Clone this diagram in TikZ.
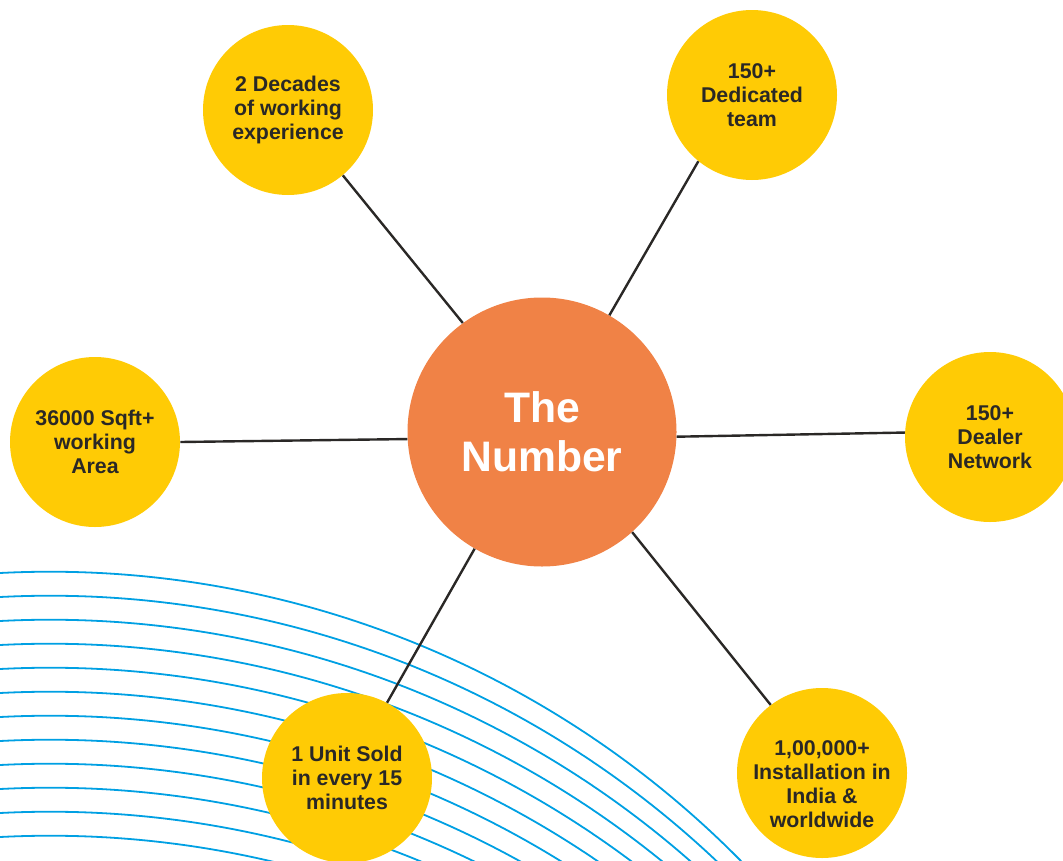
\documentclass[tikz,border=0pt]{standalone}
\usepackage{fontspec}
\setmainfont{Liberation Sans}
\usetikzlibrary{positioning}
\definecolor{numYellow}{RGB}{255,203,5}
\definecolor{numOrange}{RGB}{240,130,70}
\definecolor{numBlue}{RGB}{0,160,227}
\definecolor{numText}{RGB}{42,40,38}

\begin{document}
\begin{tikzpicture}[x=0.75pt,y=0.75pt]
  \tikzset{Fact/.style     = {circle, fill=numYellow, minimum size=127.5pt,
                              inner sep=0pt},
           FactText/.style = {align=center, text=numText, inner sep=0pt,
                              font=\fontsize{16}{18}\selectfont\bfseries},
           Hub/.style      = {circle, fill=numOrange, minimum size=201.75pt,
                              inner sep=0pt, align=center, text=white,
                              font=\fontsize{32}{37}\selectfont\bfseries},
           Spoke/.style    = {draw=numText, line width=1.8pt},
           Wave/.style     = {draw=numBlue, line width=1.35pt}}

\useasboundingbox (0,0) rectangle (1063,-860);
\clip (0,0) rectangle (1063,-860);

% waves
\foreach \y in {573,597,...,838}
  \draw[Wave] (0,-\y) arc[start angle=92.95, end angle=40, radius=970];

% hub
\node[Hub] (num) at (542,-432) {The\\Number};

% facts
\node[Fact, FactText] (decades) at (288,-110) {2 Decades\\of working\\experience};
\node[Fact, FactText] (team)    at (752,-95)  {150+\\Dedicated\\team};
\node[Fact, FactText] (area)    at (95,-442)  {36000 Sqft+\\working\\Area};
\node[Fact, FactText] (dealer)  at (990,-437) {150+\\Dealer\\Network};
\node[Fact, FactText] (sold)    at (347,-778) {1 Unit Sold\\in every 15\\minutes};
\node[Fact]           (install) at (822,-773) {};
\node[FactText] (installtext) at (822,-784) {1,00,000+\\Installation in\\India \&\\worldwide};

% spokes
\draw[Spoke] (num.126) -- (decades.310);
\draw[Spoke] (num.60)  -- (team.231);
\draw[Spoke] (num.183) -- (area.east);
\draw[Spoke] (num.358) -- (dealer.177);
\draw[Spoke] (num.240) -- (sold.62);
\draw[Spoke] (num.312) -- (install.127);

\end{tikzpicture}
\end{document}
